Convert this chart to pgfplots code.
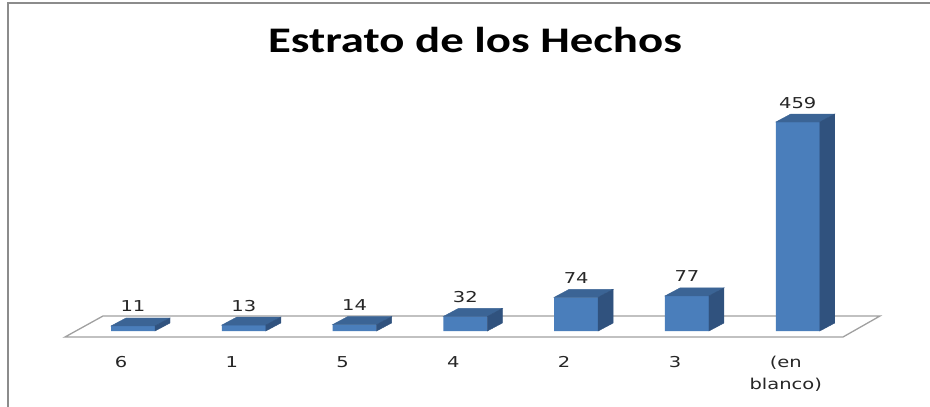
\documentclass[border=0pt]{standalone}
\usepackage{pgfplots}
\pgfplotsset{compat=1.18}
\usepackage{pgfplotstable}
\usepackage{fontspec}
\setmainfont{DejaVu Sans}
\newfontfamily\titlefont{Carlito}
\definecolor{barfront}{HTML}{4A7EBB}
\definecolor{bartop}{HTML}{3B6495}
\definecolor{barside}{HTML}{30527E}
\definecolor{floorgray}{HTML}{A0A0A0}
\definecolor{framegray}{HTML}{8C8C8C}
\pgfdeclareplotmark{emptymark}{}
\newcommand{\wide}[1]{\scalebox{1.3}[1]{#1}}
\pgfplotstableread{
x v
0 11
1 13
2 14
3 32
4 74
5 77
6 459
}\datatable
\begin{document}
\begin{tikzpicture}
\useasboundingbox (0,0) rectangle (930pt,407pt);
% frame
\draw[framegray, line width=1.6pt] (8pt,0pt) -- (8pt,404pt) -- (930pt,404pt);
% title
\node[anchor=base, inner sep=0pt, font=\titlefont\bfseries\fontsize{36}{40}\selectfont] at (475pt,354pt) {\wide{Estrato de los Hechos}};
% floor
\draw[floorgray, line width=1.3pt] (65pt,70pt) -- (843pt,70pt) -- (880pt,91pt) -- (103pt,91pt) -- cycle;
\begin{axis}[
  at={(77.6pt,76pt)}, anchor=south west,
  scale only axis, width=775.6pt, height=227.65pt,
  xmin=-0.5, xmax=6.5, ymin=0, ymax=500,
  axis x line=bottom, axis y line=none,
  x axis line style={draw=none}, major tick length=0pt,
  clip=false,
  xtick={0,1,2,3,4,5},
  xticklabels={\wide{6},\wide{1},\wide{5},\wide{4},\wide{2},\wide{3}},
  extra x ticks={6},
  extra x tick labels={\wide{\begin{tabular}[t]{@{}c@{}}(en\\blanco)\end{tabular}}},
  xticklabel style={anchor=base, inner sep=0pt, yshift=-36pt, xshift=-12pt,
    font=\fontsize{15}{22}\selectfont, text=black!85},
  /pgf/number format/assume math mode=true,
]
\addplot[ybar, bar width=44pt, fill=barfront, draw=none,
  nodes near coords={\wide{\pgfmathprintnumber{\pgfplotspointmeta}}},
  every node near coord/.append style={anchor=base, inner sep=0pt, yshift=14pt,
    font=\fontsize{15}{18}\selectfont, text=black!85}]
  table[x=x, y=v] {\datatable};
\addplot[scatter, only marks, mark=emptymark,
  visualization depends on={rawy \as \rawv},
  scatter/@pre marker code/.code={%
    \pgfkeys{/pgf/fpu=false}%
    \pgfmathsetmacro\hh{\rawv*0.4553}%
    \fill[bartop] (-22pt,0pt) -- (-7pt,8pt) -- (37pt,8pt) -- (22pt,0pt) -- cycle;
    \fill[barside] (22pt,0pt) -- (37pt,8pt) -- (37pt,8pt-\hh pt) -- (22pt,-\hh pt) -- cycle;
  },
  scatter/@post marker code/.code={}]
  table[x=x, y=v] {\datatable};
\end{axis}
\end{tikzpicture}
\end{document}
